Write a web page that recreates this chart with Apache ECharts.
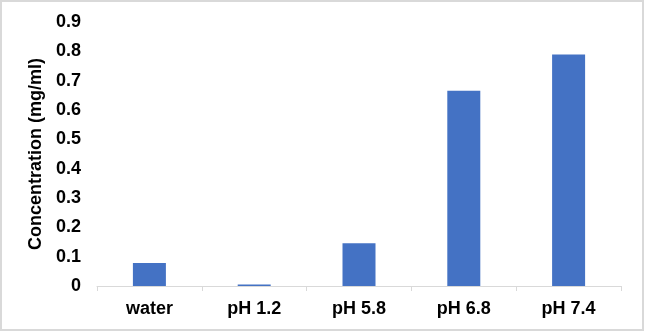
<!DOCTYPE html>
<html><head><meta charset="utf-8">
<script src="https://cdn.jsdelivr.net/npm/echarts@6/dist/echarts.min.js"></script>
<style>html,body{margin:0;padding:0;background:#fff}#c{width:645px;height:332px}</style>
</head><body><div id="c"></div>
<script>
const categories = ['water', 'pH 1.2', 'pH 5.8', 'pH 6.8', 'pH 7.4'];
const values = [0.078, 0.005, 0.146, 0.666, 0.789];
const yTitle = 'Concentration (mg/ml)';

const chart = echarts.init(document.getElementById('c'), null, {renderer: 'canvas'});
chart.setOption({
  animation: false,
  backgroundColor: '#fff',
  graphic: [{
    type: 'rect', shape: {x: 1, y: 1, width: 642, height: 329},
    style: {fill: 'none', stroke: '#d9d9d9', lineWidth: 2}, silent: true
  }],
  grid: {left: 97, right: 24, top: 22, bottom: 46, containLabel: false},
  xAxis: {
    type: 'category', data: categories,
    axisLine: {lineStyle: {color: '#d9d9d9', width: 1}},
    axisTick: {show: true, length: 5, lineStyle: {color: '#d9d9d9'}},
    axisLabel: {color: '#000', fontFamily: 'Liberation Sans, Arial', fontWeight: 'bold', fontSize: 18, margin: 14}
  },
  yAxis: {
    type: 'value', min: 0, max: 0.9, interval: 0.1,
    name: yTitle, nameLocation: 'middle', nameGap: 47,
    nameTextStyle: {color: '#000', fontFamily: 'Liberation Sans, Arial', fontWeight: 'bold', fontSize: 18},
    axisLine: {show: false}, axisTick: {show: false}, splitLine: {show: false},
    axisLabel: {color: '#000', fontFamily: 'Liberation Sans, Arial', fontWeight: 'bold', fontSize: 18, margin: 16,
      formatter: v => v === 0 ? '0' : v.toFixed(1)}
  },
  series: [{
    type: 'bar', data: values, barWidth: 33,
    itemStyle: {color: '#4472C4'}
  }]
});
</script></body></html>
